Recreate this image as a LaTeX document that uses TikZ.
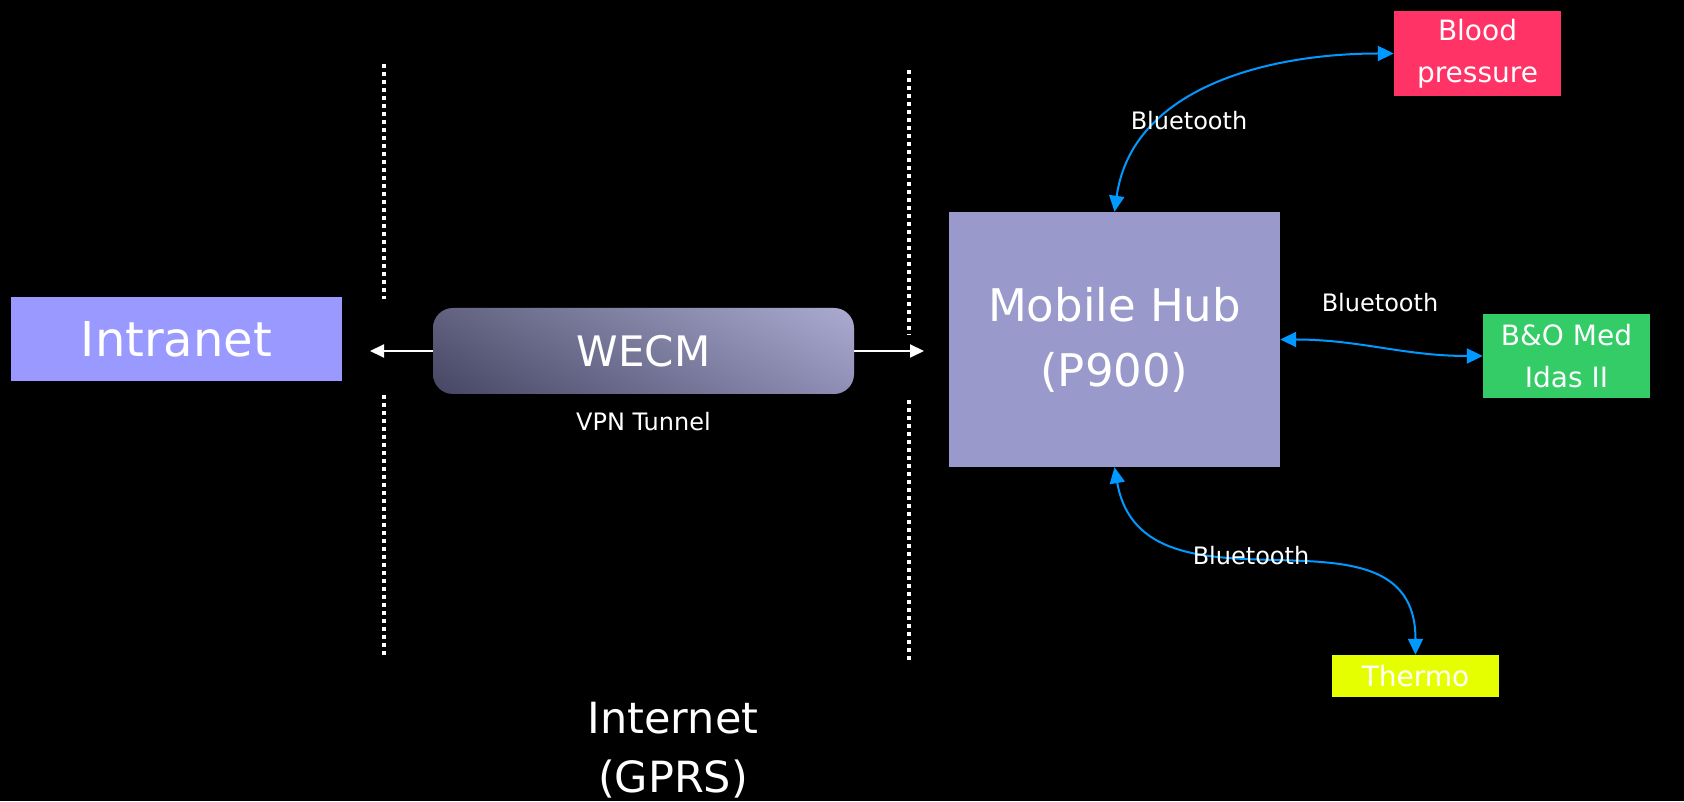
\documentclass[tikz,border=0pt]{standalone}
\usepackage{fontspec}
\setmainfont{DejaVu Sans}
\usetikzlibrary{positioning,arrows.meta}
\definecolor{intranetblue}{HTML}{9999FF}
\definecolor{hubblue}{HTML}{9999CC}
\definecolor{bpred}{HTML}{FF3366}
\definecolor{medgreen}{HTML}{33CC66}
\definecolor{thermoyellow}{HTML}{E6FF00}
\definecolor{btblue}{HTML}{0099FF}
\definecolor{wecmdark}{HTML}{5A5A80}
\definecolor{wecmlight}{HTML}{B8B8EA}

\begin{document}
\begin{tikzpicture}[
    x=1pt, y=1pt,
    >={Triangle[length=16pt, width=15pt]},
    box/.style={ draw=none,
                 text=white,
                 inner sep=0pt,
                 align=center},
    device/.style={box, minimum width=167pt, font=\fontsize{28}{42}\selectfont},
    btlink/.style={<->, draw=btblue, line width=2pt},
    netlink/.style={-{Triangle[length=14pt, width=13pt]}, draw=white, line width=2pt},
    zoneline/.style={draw=white, line width=4pt, dash pattern=on 4pt off 4pt},
    infotext/.style={text=white, inner sep=0pt, font=\fontsize{24}{28}\selectfont}]

    \path[use as bounding box, fill=black] (0,0) rectangle (1684,801);

    % zone borders of the internet
    \foreach \x/\ya/\yb/\yc/\yd in {384/737/502/406/143, 909/731/466/401/141}
        \draw[zoneline] (\x,\ya) -- (\x,\yb) (\x,\yc) -- (\x,\yd);

    \node[box, fill=intranetblue, minimum width=331pt, minimum height=84pt,
          font=\fontsize{48}{58}\selectfont] (intranet) at (176.5,462) {Intranet};

    \node[box, rounded corners=20pt,
          minimum width=421pt, minimum height=86pt,
          left color=wecmdark, right color=wecmlight,
          postaction={fill opacity=0.22, top color=black!50, middle color=white, bottom color=black},
          font=\fontsize{42}{50}\selectfont] (wecm) at (643.5,450) {WECM};
    \node[infotext, below=18pt of wecm] (vpn) {VPN Tunnel};

    \coordinate (intranetend) at (370,450);
    \coordinate (hubend) at (924,450);
    \draw[netlink] (wecm.west) -- (intranetend);
    \draw[netlink] (wecm.east) -- (hubend);

    \node[box, fill=hubblue, minimum width=331pt, minimum height=255pt,
          font=\fontsize{45}{65}\selectfont] (hub) at (1114.5,461.5) {Mobile Hub\\(P900)};

    \node[device, fill=bpred, minimum height=85pt] (bp) at (1477.5,747.5) {Blood\\pressure};
    \node[device, fill=medgreen, minimum height=84pt] (med) at (1566.5,445) {B\&O Med\\Idas II};
    \node[device, fill=thermoyellow, minimum height=42pt] (thermo) at (1415.5,125) {Thermo};

    \draw[btlink] (hub.north) to[out=82, in=180] (bp.west);
    \draw[btlink] (hub.east) to[out=0, in=180] (med.west);
    \draw[btlink] (hub.south) to[out=-80, in=90, looseness=1.2] (thermo.north);

    \node[infotext] (bt1) at (1189,680) {Bluetooth};
    \node[infotext] (bt2) at (1380,498) {Bluetooth};
    \node[infotext] (bt3) at (1251,245) {Bluetooth};

    \node[box, font=\fontsize{43}{59}\selectfont] (internet) at (673,51) {Internet\\(GPRS)};

\end{tikzpicture}
\end{document}
